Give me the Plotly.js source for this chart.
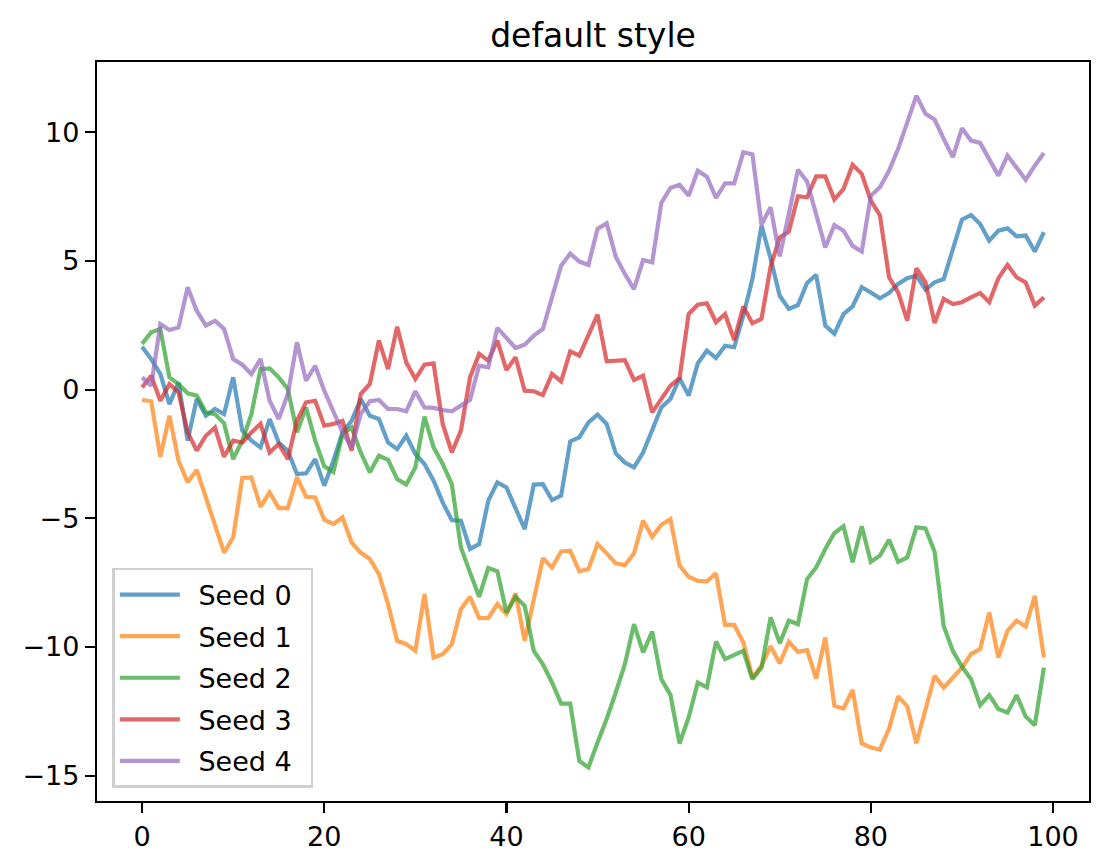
<!DOCTYPE html>
<html>
<head>
<meta charset="utf-8">
<script src="https://cdn.plot.ly/plotly-3.0.1.min.js"></script>
<style>
  html, body { margin: 0; padding: 0; background: #fff; }
  #chart { width: 1110px; height: 868px; }
</style>
</head>
<body>
<div id="chart"></div>
<script>
// values, one point per step 0..99
const seed0 = [1.67, 1.19, 0.61, -0.56, 0.28, -1.98, -0.36, -1.01, -0.75, -0.95,
    0.48, -1.59, -1.98, -2.24, -1.14, -2.05, -2.37, -3.28, -3.25, -2.70,
    -3.73, -2.76, -1.66, -1.21, -0.36, -1.01, -1.14, -2.05, -2.31, -1.79,
    -2.50, -2.89, -3.54, -4.38, -5.07, -5.09, -6.19, -6.00, -4.32, -3.60,
    -3.80, -4.64, -5.42, -3.69, -3.67, -4.29, -4.12, -2.01, -1.85, -1.27,
    -0.97, -1.33, -2.48, -2.83, -3.02, -2.44, -1.59, -0.69, -0.36, 0.45,
    -0.23, 1.02, 1.52, 1.23, 1.71, 1.65, 2.88, 4.30, 6.38, 5.10,
    3.65, 3.14, 3.29, 4.15, 4.46, 2.49, 2.17, 2.94, 3.24, 3.98,
    3.78, 3.55, 3.76, 4.11, 4.33, 4.43, 3.89, 4.17, 4.30, 5.40,
    6.61, 6.79, 6.44, 5.79, 6.18, 6.27, 5.96, 5.99, 5.37, 6.12];

const seed1 = [-0.40, -0.45, -2.61, -1.01, -2.76, -3.60, -3.12, -4.19, -5.29, -6.33,
    -5.74, -3.43, -3.41, -4.55, -3.99, -4.60, -4.60, -3.41, -4.16, -4.19,
    -5.05, -5.22, -4.96, -5.94, -6.33, -6.58, -7.17, -8.33, -9.76, -9.89,
    -10.15, -7.94, -10.41, -10.28, -9.89, -8.53, -8.05, -8.88, -8.88, -8.33,
    -8.72, -7.92, -9.76, -8.07, -6.55, -6.91, -6.29, -6.26, -7.06, -6.97,
    -6.00, -6.36, -6.75, -6.82, -6.36, -5.09, -5.72, -5.25, -5.03, -6.84,
    -7.27, -7.43, -7.45, -7.14, -9.14, -9.14, -9.82, -11.19, -10.73, -9.97,
    -10.63, -9.80, -10.19, -10.12, -11.23, -9.63, -12.29, -12.39, -11.67, -13.74,
    -13.91, -13.99, -13.17, -11.92, -12.31, -13.74, -12.41, -11.12, -11.58, -11.19,
    -10.80, -10.28, -10.08, -8.66, -10.41, -9.37, -8.98, -9.20, -8.01, -10.41];

const seed2 = [1.78, 2.23, 2.36, 0.48, 0.22, -0.14, -0.23, -0.88, -0.95, -1.31,
    -2.70, -1.98, -0.95, 0.80, 0.83, 0.48, 0.03, -1.66, -0.69, -1.98,
    -2.98, -3.20, -1.72, -1.47, -2.44, -3.21, -2.57, -2.73, -3.47, -3.69,
    -3.02, -1.05, -2.24, -2.89, -3.67, -6.13, -7.10, -8.05, -6.93, -7.06,
    -8.66, -8.05, -8.40, -10.15, -10.67, -11.38, -12.20, -12.20, -14.43, -14.68,
    -13.71, -12.80, -11.77, -10.67, -9.11, -10.21, -9.40, -11.25, -11.86, -13.75,
    -12.74, -11.38, -11.57, -9.79, -10.47, -10.30, -10.15, -11.25, -10.80, -8.85,
    -9.85, -8.98, -9.11, -7.36, -6.91, -6.19, -5.57, -5.31, -6.71, -5.31,
    -6.69, -6.45, -5.83, -6.69, -6.52, -5.35, -5.39, -6.30, -9.18, -10.15,
    -10.76, -11.25, -12.26, -11.87, -12.41, -12.55, -11.87, -12.70, -13.04, -10.80];

const seed3 = [0.09, 0.54, -0.43, 0.22, -0.10, -1.66, -2.37, -1.79, -1.47, -2.61,
    -1.98, -2.05, -1.66, -1.33, -2.44, -2.11, -2.70, -1.21, -0.49, -0.43,
    -1.40, -1.33, -1.21, -2.37, -0.17, 0.22, 1.91, 0.80, 2.45, 1.06,
    0.42, 0.97, 1.02, -1.33, -2.44, -1.59, 0.48, 1.39, 1.13, 1.91,
    0.76, 1.26, -0.04, -0.06, -0.21, 0.61, 0.32, 1.49, 1.32, 2.10,
    2.92, 1.10, 1.13, 1.15, 0.38, 0.54, -0.88, -0.36, 0.16, 0.45,
    2.94, 3.30, 3.36, 2.62, 2.94, 1.93, 3.23, 2.58, 2.75, 4.79,
    5.92, 6.14, 7.52, 7.48, 8.29, 8.29, 7.39, 7.80, 8.74, 8.39,
    7.35, 6.77, 4.37, 3.78, 2.68, 4.72, 4.17, 2.59, 3.53, 3.33,
    3.40, 3.59, 3.76, 3.40, 4.33, 4.85, 4.37, 4.17, 3.27, 3.59];

const seed4 = [0.48, 0.15, 2.55, 2.32, 2.42, 3.98, 3.07, 2.49, 2.68, 2.36,
    1.19, 0.97, 0.61, 1.19, -0.43, -1.14, -0.17, 1.84, 0.35, 0.93,
    -0.04, -0.88, -1.66, -2.24, -0.95, -0.45, -0.40, -0.75, -0.75, -0.84,
    -0.06, -0.69, -0.71, -0.79, -0.84, -0.62, -0.40, 0.93, 0.87, 2.40,
    2.03, 1.62, 1.75, 2.10, 2.36, 3.59, 4.82, 5.29, 4.98, 4.85,
    6.25, 6.47, 5.17, 4.50, 3.91, 5.04, 4.95, 7.26, 7.84, 7.97,
    7.54, 8.51, 8.28, 7.45, 8.02, 8.02, 9.23, 9.14, 6.42, 7.09,
    5.18, 6.83, 8.55, 8.09, 6.85, 5.53, 6.40, 6.18, 5.59, 5.37,
    7.54, 7.87, 8.51, 9.36, 10.39, 11.43, 10.72, 10.50, 9.75, 9.04,
    10.16, 9.68, 9.59, 8.94, 8.32, 9.10, 8.61, 8.16, 8.71, 9.20];

const seriesNames = ['Seed 0', 'Seed 1', 'Seed 2', 'Seed 3', 'Seed 4'];
const xTickVals = [0, 20, 40, 60, 80, 100];
const yTickVals = [-15, -10, -5, 0, 5, 10];
const yTickText = ['\u221215', '\u221210', '\u22125', '0', '5', '10'];

const allSeries = [seed0, seed1, seed2, seed3, seed4];
const colors = ['#1f77b4', '#ff7f0e', '#2ca02c', '#d62728', '#9467bd'];
const font = 'DejaVu Sans, sans-serif';

const traces = allSeries.map(function (vals, i) {
    return {
        y: vals,
        x0: 0,
        dx: 1,
        type: 'scatter',
        mode: 'lines',
        // en spaces pad the legend label like matplotlib's handle gap
        name: '\u2002' + seriesNames[i] + '\u2002',
        legendgroup: 'g' + i,
        opacity: 0.7,
        line: { color: colors[i], width: 4.2 }
    };
});

// matplotlib style 5% margins round the data
const flat = [].concat.apply([], allSeries);
const yMin = Math.min.apply(null, flat);
const yMax = Math.max.apply(null, flat);
const yPad = (yMax - yMin) * 0.05;
const n = seed0.length - 1;

const axisCommon = {
    showgrid: false,
    zeroline: false,
    showline: true,
    mirror: true,
    linecolor: '#000',
    linewidth: 2.2,
    ticks: 'outside',
    ticklen: 10,
    tickwidth: 2.2,
    tickcolor: '#000',
    tickfont: { family: font, size: 27, color: '#000' }
};

const layout = {
    width: 1110,
    height: 868,
    margin: { l: 97, r: 21, t: 62, b: 67 },
    paper_bgcolor: '#fff',
    plot_bgcolor: '#fff',
    title: {
        text: 'default style',
        font: { family: font, size: 33, color: '#000' },
        x: 0.5, xref: 'paper',
        y: 1, yref: 'paper', yanchor: 'bottom',
        pad: { b: 15 }
    },
    xaxis: Object.assign({}, axisCommon, {
        range: [-n * 0.05, n * 1.05],
        tickvals: xTickVals
    }),
    yaxis: Object.assign({}, axisCommon, {
        range: [yMin - yPad, yMax + yPad],
        tickvals: yTickVals,
        ticktext: yTickText
    }),
    showlegend: true,
    legend: {
        x: 0.0155, y: 0.0176,
        xanchor: 'left', yanchor: 'bottom',
        bgcolor: 'rgba(255,255,255,0.8)',
        bordercolor: '#d0d0d0',
        borderwidth: 2.5,
        font: { family: font, size: 27, color: '#000' },
        tracegroupgap: 3.5,
        itemwidth: 60
    }
};

Plotly.newPlot('chart', traces, layout, { displayModeBar: false, staticPlot: true });
</script>
</body>
</html>
